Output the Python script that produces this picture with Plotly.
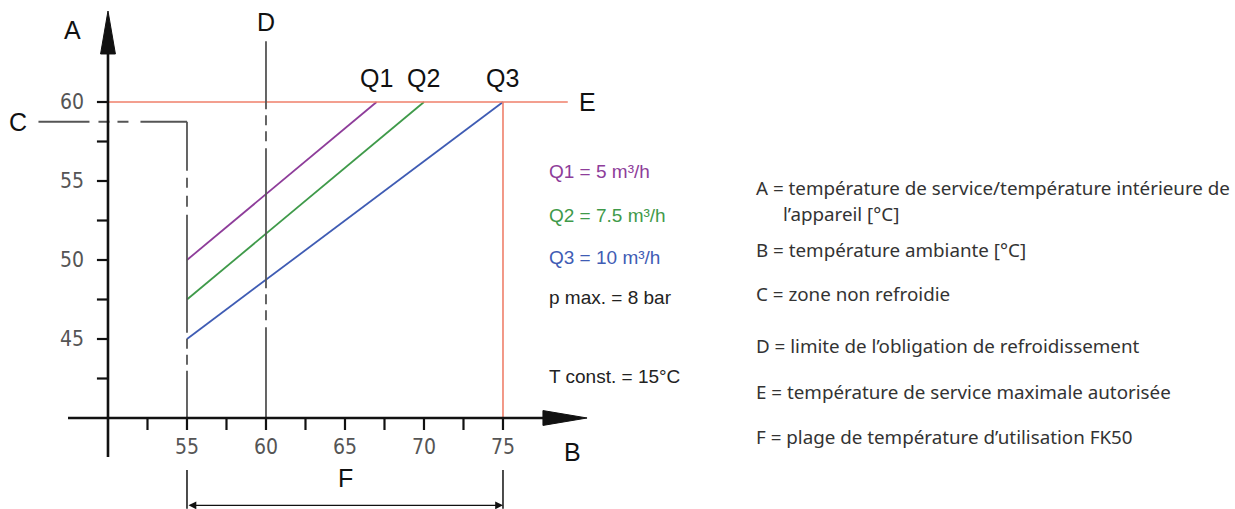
import plotly.graph_objects as go

# ---------------- data ----------------
series_names = ["Q1", "Q2", "Q3"]
series_colors = ["#8e3d9a", "#3f9a4a", "#3f5cb4"]
series_start_x = [55, 55, 55]
series_start_y = [50, 47.5, 45]
series_end_x = [67, 70, 75]
series_end_y = [60, 60, 60]
legend_texts = ["Q1 = 5 m³/h", "Q2 = 7.5 m³/h", "Q3 = 10 m³/h", "p max. = 8 bar", "T const. = 15°C"]
legend_colors = ["#8e3d9a", "#3f9a4a", "#3f5cb4", "#222222", "#222222"]

x_tick_labels = [55, 60, 65, 70, 75]
x_minor_ticks = [52.5, 55, 57.5, 60, 62.5, 65, 67.5, 70, 72.5, 75]
y_tick_labels = [45, 50, 55, 60]
y_minor_ticks = [42.5, 45, 47.5, 50, 52.5, 55, 57.5, 60]

x_origin, y_origin = 50, 40
max_temp = 60          # E
cooling_limit = 60     # D
range_lo, range_hi = 55, 75   # F
uncooled_level = 58.75        # C

notes = [
    "A = température de service/température intérieure de",
    "l’appareil [°C]",
    "B = température ambiante [°C]",
    "C = zone non refroidie",
    "D = limite de l’obligation de refroidissement",
    "E = température de service maximale autorisée",
    "F = plage de température d’utilisation FK50",
]

# ---------------- figure ----------------
W, H = 1235, 509
fig = go.Figure()

AX = "#111111"
GREY = "#555555"
RED = "#ef7f6a"

shapes = []

def seg(x0, y0, x1, y1, color, width, dash="solid"):
    shapes.append(dict(type="line", xref="x", yref="y", x0=x0, y0=y0, x1=x1, y1=y1,
                       line=dict(color=color, width=width, dash=dash), layer="above"))

# red lines E and vertical at 75
seg(x_origin, max_temp, 79.1, max_temp, RED, 1.6)
seg(range_hi, y_origin, range_hi, max_temp, RED, 1.6)

# D line
seg(cooling_limit, 63.85, cooling_limit, y_origin, GREY, 1.8,
    "68px,6px,10px,6px,10px,7px,140px,6px,10px,6px,10px,7px,120px,500px")

# C line (horizontal then vertical)
seg(45.6, uncooled_level, range_lo, uncooled_level, GREY, 1.8,
    "51px,9px,11px,8px,11px,12px,80px,300px")
seg(range_lo, uncooled_level, range_lo, y_origin - 0.76, GREY, 1.8,
    "49px,7px,10px,8px,11px,8px,118px,6px,10px,6px,10px,6px,120px,400px")

# axes
seg(47.47, y_origin, 77.6, y_origin, AX, 2.6)
seg(x_origin, 37.53, x_origin, 63.1, AX, 2.6)
# arrow heads
shapes.append(dict(type="path", xref="x", yref="y",
                   path=f"M {x_origin-0.47},63.04 L {x_origin+0.47},63.04 L {x_origin},65.76 Z",
                   fillcolor=AX, line=dict(color=AX, width=1), layer="above"))
shapes.append(dict(type="path", xref="x", yref="y",
                   path=f"M 77.53,{y_origin-0.47} L 77.53,{y_origin+0.47} L 80.32,{y_origin} Z",
                   fillcolor=AX, line=dict(color=AX, width=1), layer="above"))
# ticks
for t in x_minor_ticks:
    seg(t, y_origin, t, y_origin - 0.76, AX, 2.2)
for t in y_minor_ticks:
    seg(x_origin, t, x_origin - 0.7, t, AX, 2.2)

# F bracket
seg(range_lo, 36.71, range_lo, 34.25, AX, 1.5)
seg(range_hi, 36.71, range_hi, 34.25, AX, 1.5)

fig.update_layout(shapes=shapes)

# Q lines
for n, c, x0, y0, x1, y1 in zip(series_names, series_colors, series_start_x, series_start_y,
                                series_end_x, series_end_y):
    fig.add_trace(go.Scatter(x=[x0, x1], y=[y0, y1], mode="lines", name=n,
                             line=dict(color=c, width=1.8), showlegend=False, hoverinfo="skip"))

ann = []
BIG = dict(family="Liberation Sans, Arial, sans-serif", size=25, color="#111111")
TICKF = dict(family="Liberation Sans Narrow, DejaVu Sans Condensed, sans-serif", size=21, color="#555555")

for t in x_tick_labels:
    ann.append(dict(x=t, y=38.15, xref="x", yref="y", text=str(t), showarrow=False,
                    font=TICKF, xanchor="center", yanchor="middle"))
for t in y_tick_labels:
    ann.append(dict(x=48.6, y=t, xref="x", yref="y", text=str(t), showarrow=False,
                    font=TICKF, xanchor="right", yanchor="middle"))

# letter labels
ann.append(dict(x=47.78, y=64.56, xref="x", yref="y", text="A", showarrow=False, font=BIG))
ann.append(dict(x=cooling_limit, y=65.06, xref="x", yref="y", text="D", showarrow=False, font=BIG))
for n, x1 in zip(series_names, series_end_x):
    ann.append(dict(x=x1, y=61.52, xref="x", yref="y", text=n, showarrow=False, font=BIG))
ann.append(dict(x=80.38, y=max_temp, xref="x", yref="y", text="E", showarrow=False, font=BIG))
ann.append(dict(x=44.3, y=uncooled_level, xref="x", yref="y", text="C", showarrow=False, font=BIG))
ann.append(dict(x=79.37, y=37.85, xref="x", yref="y", text="B", showarrow=False, font=BIG))
ann.append(dict(x=65.06, y=36.2, xref="x", yref="y", text="F", showarrow=False, font=BIG))

# F double arrow
ann.append(dict(x=range_hi, y=34.47, ax=range_lo, ay=34.47, xref="x", yref="y", axref="x", ayref="y",
                text="", showarrow=True, arrowhead=2, arrowside="end+start", arrowsize=1.2,
                arrowwidth=1.3, arrowcolor=AX, standoff=0, startstandoff=0))

# legend-ish texts
leg_y = [171, 216, 257, 297, 376]
for t, c, py in zip(legend_texts, legend_colors, leg_y):
    ann.append(dict(x=547 / W, y=1 - py / H, xref="paper", yref="paper", text=t, showarrow=False,
                    xanchor="left", yanchor="middle",
                    font=dict(family="Liberation Sans, Arial, sans-serif", size=19, color=c)))

# right notes
note_pos = [(754, 188), (781, 214), (754, 250), (754, 294), (754, 346), (754, 392), (754, 437)]
for t, (px, py) in zip(notes, note_pos):
    ann.append(dict(x=px / W, y=1 - py / H, xref="paper", yref="paper", text=t, showarrow=False,
                    xanchor="left", yanchor="middle",
                    font=dict(family="Noto Sans, sans-serif", size=18.8, color="#333333")))

fig.update_layout(
    annotations=ann,
    width=W, height=H,
    margin=dict(l=0, r=0, t=0, b=0),
    paper_bgcolor="white", plot_bgcolor="white",
    xaxis=dict(range=[43.165, 121.33], visible=False, fixedrange=True),
    yaxis=dict(range=[34.24, 66.456], visible=False, fixedrange=True),
    showlegend=False,
)

fig.write_html("out.html", config={"displayModeBar": False},
               post_script="document.body.style.margin='0';document.body.style.overflow='hidden';")
